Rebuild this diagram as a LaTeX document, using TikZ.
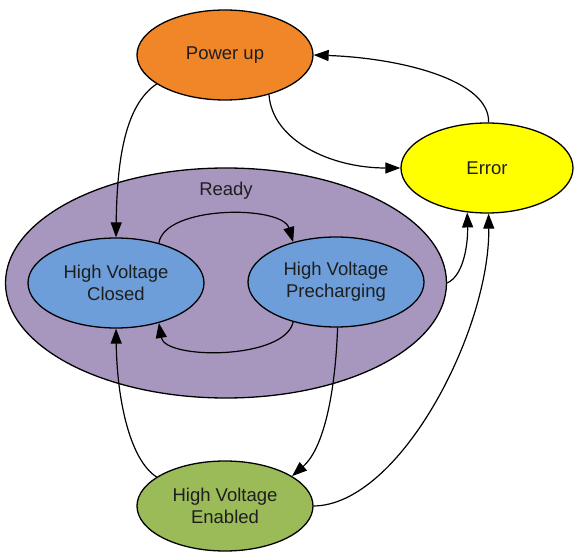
\documentclass[tikz,border=0pt]{standalone}
\usepackage{fontspec}
\setmainfont{Liberation Sans}
\usetikzlibrary{shapes.geometric,arrows.meta}
\definecolor{cOrange}{RGB}{240,134,40}
\definecolor{cYellow}{RGB}{255,255,0}
\definecolor{cPurple}{RGB}{167,151,191}
\definecolor{cBlue}{RGB}{109,158,218}
\definecolor{cGreen}{RGB}{155,187,89}
\definecolor{cText}{RGB}{30,30,30}
\tikzset{
  state/.style={ellipse,draw=black,line width=1.3pt,inner sep=0pt,
    minimum width=176pt,minimum height=90pt,align=center,
    font=\fontsize{18.5}{22}\selectfont,text=cText},
  conn/.style={line width=1.2pt,-{Triangle[length=15pt,width=11pt]}},
}
\begin{document}
\begin{tikzpicture}[x=1pt,y=-1pt]
\useasboundingbox (0,0) rectangle (574,553);
\node[state,fill=cPurple,minimum width=441pt,minimum height=230pt] (ready) at (226,283) {};
\node[font=\fontsize{18.5}{22}\selectfont,text=cText] (readylbl) at (226,191) {Ready};
\node[state,fill=cOrange] (power) at (225,55) {Power up};
\node[state,fill=cYellow,minimum width=172pt] (error) at (487,168) {Error};
\node[state,fill=cBlue] (closed) at (116,283) {High Voltage\\Closed};
\node[state,fill=cBlue] (pre) at (336,282) {High Voltage\\Precharging};
\node[state,fill=cGreen] (enabled) at (225,506) {High Voltage\\Enabled};

\draw[conn] (power.203) .. controls (125,105) and (117,160) .. (closed.north);
\draw[conn] (power.318) .. controls (272,140) and (330,168) .. (error.west);
\draw[conn] (error.88) .. controls (490,80) and (400,58) .. (power.east);
\draw[conn] (closed.43) .. controls (165,205) and (282,205) .. (pre.137);
\draw[conn] (pre.223) .. controls (285,360) and (165,360) .. (closed.317);
\draw[conn] (ready.east) .. controls (465,275) and (468,240) .. (error.246);
\draw[conn] (enabled.east) .. controls (400,505) and (490,330) .. (error.272);
\draw[conn] (enabled.157) .. controls (130,460) and (117,400) .. (closed.south);
\draw[conn] (pre.272) .. controls (335,400) and (322,450) .. (enabled.24);
\end{tikzpicture}
\end{document}
